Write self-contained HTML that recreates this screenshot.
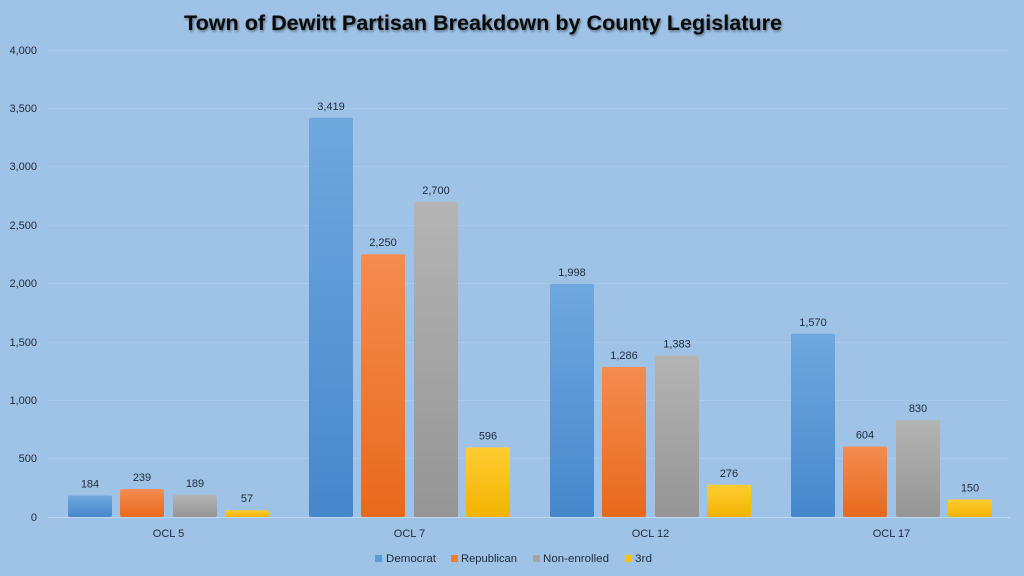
<!DOCTYPE html>
<html><head><meta charset="utf-8"><style>
html,body{margin:0;padding:0;background:#9fc3e7;}
svg{display:block;}
text{font-family:"Liberation Sans",sans-serif;}
</style></head><body>
<svg width="1024" height="576" viewBox="0 0 1024 576" xmlns="http://www.w3.org/2000/svg">
<defs>
<linearGradient id="gb" x1="0" y1="0" x2="0" y2="1"><stop offset="0" stop-color="#70a8de"/><stop offset="1" stop-color="#4687cc"/></linearGradient>
<linearGradient id="go" x1="0" y1="0" x2="0" y2="1"><stop offset="0" stop-color="#f48c50"/><stop offset="1" stop-color="#e8691c"/></linearGradient>
<linearGradient id="gg" x1="0" y1="0" x2="0" y2="1"><stop offset="0" stop-color="#b4b4b4"/><stop offset="1" stop-color="#959595"/></linearGradient>
<linearGradient id="gy" x1="0" y1="0" x2="0" y2="1"><stop offset="0" stop-color="#ffcc33"/><stop offset="1" stop-color="#f2b400"/></linearGradient>
<filter id="sh" x="-20%" y="-20%" width="140%" height="140%"><feGaussianBlur stdDeviation="1.2"/></filter>
</defs>
<rect width="1024" height="576" fill="#9fc3e7"/>
<!-- title -->
<text x="483" y="30" text-anchor="middle" font-size="21" font-weight="bold" fill="#000" opacity="0.45" filter="url(#sh)" textLength="598" lengthAdjust="spacingAndGlyphs" transform="translate(1,1.5)">Town of Dewitt Partisan  Breakdown  by County Legislature</text>
<text x="483" y="30" text-anchor="middle" font-size="21" font-weight="bold" fill="#0a0a0a" textLength="598" lengthAdjust="spacingAndGlyphs">Town of Dewitt Partisan  Breakdown  by County Legislature</text>
<!-- gridlines -->
<g stroke="#a9caea" stroke-width="1">
<line x1="48" x2="1010" y1="50.5" y2="50.5"/>
<line x1="48" x2="1010" y1="108.5" y2="108.5"/>
<line x1="48" x2="1010" y1="166.5" y2="166.5"/>
<line x1="48" x2="1010" y1="225.5" y2="225.5"/>
<line x1="48" x2="1010" y1="283.5" y2="283.5"/>
<line x1="48" x2="1010" y1="342.5" y2="342.5"/>
<line x1="48" x2="1010" y1="400.5" y2="400.5"/>
<line x1="48" x2="1010" y1="458.5" y2="458.5"/>
</g>
<!-- y labels -->
<g font-size="11" fill="#1e2a3a" text-anchor="end">
<text x="37" y="54">4,000</text>
<text x="37" y="112">3,500</text>
<text x="37" y="170">3,000</text>
<text x="37" y="229">2,500</text>
<text x="37" y="287">2,000</text>
<text x="37" y="346">1,500</text>
<text x="37" y="404">1,000</text>
<text x="37" y="462">500</text>
<text x="37" y="521">0</text>
</g>
<!-- bars -->
<g>
<rect x="68" y="495.5" width="44" height="21.5" rx="2" fill="url(#gb)"/>
<rect x="120" y="489.1" width="44" height="27.9" rx="2" fill="url(#go)"/>
<rect x="173" y="494.9" width="44" height="22.1" rx="2" fill="url(#gg)"/>
<rect x="225" y="510.3" width="44" height="6.7" rx="2" fill="url(#gy)"/>

<rect x="309" y="117.8" width="44" height="399.2" rx="2" fill="url(#gb)"/>
<rect x="361" y="254.3" width="44" height="262.7" rx="2" fill="url(#go)"/>
<rect x="414" y="201.8" width="44" height="315.2" rx="2" fill="url(#gg)"/>
<rect x="466" y="447.4" width="44" height="69.6" rx="2" fill="url(#gy)"/>

<rect x="550" y="283.7" width="44" height="233.3" rx="2" fill="url(#gb)"/>
<rect x="602" y="366.9" width="44" height="150.1" rx="2" fill="url(#go)"/>
<rect x="655" y="355.5" width="44" height="161.5" rx="2" fill="url(#gg)"/>
<rect x="707" y="484.8" width="44" height="32.2" rx="2" fill="url(#gy)"/>

<rect x="791" y="333.7" width="44" height="183.3" rx="2" fill="url(#gb)"/>
<rect x="843" y="446.5" width="44" height="70.5" rx="2" fill="url(#go)"/>
<rect x="896" y="420.1" width="44" height="96.9" rx="2" fill="url(#gg)"/>
<rect x="948" y="499.5" width="44" height="17.5" rx="2" fill="url(#gy)"/>
</g>
<!-- axis -->
<line x1="48" x2="1010" y1="517.5" y2="517.5" stroke="#bcd6f0" stroke-width="1"/>
<!-- value labels -->
<g font-size="11" fill="#1e2a3a" text-anchor="middle">
<text x="90" y="487.5">184</text>
<text x="142" y="481">239</text>
<text x="195" y="487">189</text>
<text x="247" y="502">57</text>

<text x="331" y="110">3,419</text>
<text x="383" y="246">2,250</text>
<text x="436" y="194">2,700</text>
<text x="488" y="439.5">596</text>

<text x="572" y="276">1,998</text>
<text x="624" y="359">1,286</text>
<text x="677" y="347.5">1,383</text>
<text x="729" y="477">276</text>

<text x="813" y="326">1,570</text>
<text x="865" y="438.5">604</text>
<text x="918" y="412">830</text>
<text x="970" y="491.5">150</text>
</g>
<!-- category labels -->
<g font-size="11" fill="#1e2a3a" text-anchor="middle">
<text x="168.5" y="537">OCL 5</text>
<text x="409.5" y="537">OCL 7</text>
<text x="650.5" y="537">OCL 12</text>
<text x="891.5" y="537">OCL 17</text>
</g>
<!-- legend -->
<g font-size="11" fill="#1e2a3a">
<rect x="375" y="555" width="7" height="7" fill="#5b9bd5"/>
<text x="386" y="562" textLength="50" lengthAdjust="spacingAndGlyphs">Democrat</text>
<rect x="451" y="555" width="7" height="7" fill="#ed7d31"/>
<text x="461" y="562" textLength="56" lengthAdjust="spacingAndGlyphs">Republican</text>
<rect x="533" y="555" width="7" height="7" fill="#a5a5a5"/>
<text x="543" y="562" textLength="66" lengthAdjust="spacingAndGlyphs">Non-enrolled</text>
<rect x="625" y="555" width="7" height="7" fill="#ffc000"/>
<text x="635" y="562" textLength="17" lengthAdjust="spacingAndGlyphs">3rd</text>
</g>
</svg>
</body></html>
